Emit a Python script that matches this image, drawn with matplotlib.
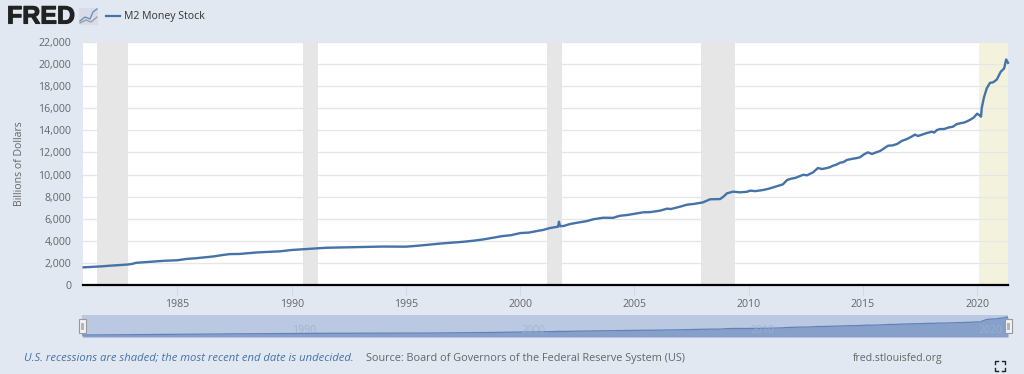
import matplotlib
matplotlib.use('Agg')
import matplotlib.pyplot as plt
import matplotlib.patheffects as pe

plt.rcParams['font.family'] = ['Open Sans', 'DejaVu Sans']

# decimal years and M2 in billions
years = [1980.9, 1981.3, 1981.7, 1982.0, 1982.4, 1982.8, 1983.0, 1983.2, 1983.6, 1984.0,
         1984.4, 1985.0, 1985.4, 1985.8, 1986.2, 1986.6, 1987.0, 1987.3, 1987.7, 1988.1,
         1988.5, 1989.0, 1989.5, 1990.0, 1990.5, 1991.0, 1991.5, 1992.0, 1992.5, 1993.0,
         1993.5, 1994.0, 1994.5, 1995.0, 1995.5, 1996.0, 1996.5, 1997.0, 1997.5, 1998.0,
         1998.4, 1998.8, 1999.2, 1999.6, 2000.0, 2000.4, 2000.74, 2001.0, 2001.31, 2001.66,
         2001.70, 2001.74, 2001.9, 2002.18, 2002.5, 2002.93, 2003.2, 2003.63, 2004.07, 2004.2,
         2004.37, 2004.7, 2005.11, 2005.38, 2005.7, 2006.12, 2006.43, 2006.6, 2006.78, 2007.0,
         2007.30, 2007.6, 2008.0, 2008.15, 2008.31, 2008.75, 2008.9, 2009.05, 2009.32, 2009.62,
         2009.93, 2010.06, 2010.3, 2010.63, 2010.85, 2011.07, 2011.3, 2011.5, 2011.68, 2011.85,
         2012.05, 2012.25, 2012.4, 2012.55, 2012.82, 2013.03, 2013.21, 2013.43, 2013.55, 2013.69,
         2013.85, 2014.0, 2014.15, 2014.3, 2014.5, 2014.7, 2014.87, 2015.05, 2015.22, 2015.4,
         2015.55, 2015.75, 2015.9, 2016.1, 2016.3, 2016.5, 2016.7, 2016.93, 2017.1, 2017.28,
         2017.41, 2017.6, 2017.8, 2018.02, 2018.12, 2018.24, 2018.37, 2018.55, 2018.75, 2018.94,
         2019.1, 2019.25, 2019.45, 2019.68, 2019.85, 2020.0, 2020.1, 2020.17, 2020.2, 2020.3,
         2020.42, 2020.56, 2020.7, 2020.86, 2021.03, 2021.18, 2021.27, 2021.35]
m2 = [1600, 1640, 1690, 1740, 1790, 1850, 1900, 2010, 2070, 2140,
      2190, 2240, 2360, 2420, 2500, 2590, 2720, 2800, 2810, 2880,
      2950, 3000, 3050, 3170, 3240, 3300, 3370, 3390, 3400, 3420,
      3450, 3480, 3470, 3470, 3550, 3650, 3750, 3830, 3910, 4020,
      4130, 4270, 4420, 4510, 4700, 4750, 4890, 4980, 5160, 5280,
      5730, 5330, 5340, 5520, 5640, 5790, 5950, 6090, 6080, 6170,
      6270, 6340, 6490, 6580, 6600, 6730, 6910, 6880, 6970, 7090,
      7270, 7340, 7480, 7620, 7760, 7780, 8000, 8300, 8450, 8390,
      8440, 8540, 8500, 8600, 8700, 8840, 8980, 9110, 9500, 9620,
      9700, 9870, 9980, 9930, 10200, 10590, 10500, 10590, 10660, 10800,
      10900, 11070, 11130, 11320, 11410, 11480, 11560, 11830, 12010, 11860,
      11990, 12130, 12340, 12610, 12640, 12770, 13040, 13220, 13400, 13610,
      13490, 13620, 13760, 13880, 13800, 14030, 14120, 14120, 14260, 14330,
      14560, 14640, 14720, 14940, 15160, 15510, 15370, 15240, 16020, 17000,
      17800, 18300, 18350, 18600, 19300, 19600, 20420, 20120]

nav_ticks = [1990, 2000, 2010, 2020]
x_ticks = [1985, 1990, 1995, 2000, 2005, 2010, 2015, 2020]
y_ticks = list(range(0, 22001, 2000))
recessions = [(1981.47, 1982.83), (1990.5, 1991.17), (2001.17, 2001.83), (2007.92, 2009.4)]
current = (2020.08, 2021.35)

W, H = 1024, 374
BG = '#e1e8f1'
LINE = '#4572a7'
TXT = '#666666'

fig = plt.figure(figsize=(W / 100, H / 100), dpi=100, facecolor=BG)

ax = fig.add_axes([83 / W, 1 - 285 / H, 925 / W, 243 / H])
ax.set_xlim(1980.87, 2021.35)
ax.set_ylim(0, 22000)
for a, b in recessions:
    ax.axvspan(a, b, color='#e6e6e6', lw=0, zorder=1)
ax.axvspan(current[0], current[1], color='#f3f3dd', lw=0, zorder=1)
ax.set_yticks(y_ticks)
ax.set_yticklabels([f'{v:,}' for v in y_ticks], fontsize=7.6, color=TXT)
ax.set_xticks(x_ticks)
ax.set_xticklabels([str(v) for v in x_ticks], fontsize=7.6, color=TXT)
ax.grid(axis='y', color='#e6e6e6', lw=0.9, zorder=2)
ax.plot(years, m2, color=LINE, lw=1.7, zorder=3, solid_joinstyle='round', clip_on=False)
for s in ['top', 'left', 'right']:
    ax.spines[s].set_visible(False)
ax.spines['bottom'].set_color('#000000')
ax.spines['bottom'].set_linewidth(1.6)
ax.tick_params(axis='y', length=0, pad=8.5)
ax.tick_params(axis='x', length=7, width=0.6, color='#ccd6e6', pad=3)
ax.set_ylabel('Billions of Dollars', fontsize=7.6, color=TXT, labelpad=9.5)

# navigator strip
nav = fig.add_axes([82 / W, 1 - 337 / H, 926 / W, 22 / H])
nav.set_xlim(1980.87, 2021.35)
nav.set_ylim(-500, 22600)
nav.set_facecolor('#bac8e2')
nav.fill_between(years, m2, -500, color='#87a0ca', lw=0, zorder=2)
nav.plot(years, m2, color='#5f82b8', lw=0.9, zorder=3)
nav.set_xticks([])
nav.set_yticks([])
for s in nav.spines.values():
    s.set_visible(False)
for yr in nav_ticks:
    nav.text(yr + 0.6, 1000, str(yr), fontsize=7.6, color='#9fb0cc',
             ha='center', va='bottom', zorder=4, alpha=0.8)

# navigator handles
for hx in [82.5, 1008]:
    fig.add_artist(plt.Rectangle(((hx - 3.5) / W, 1 - 333 / H), 7 / W, 14 / H,
                                 transform=fig.transFigure, fc='#f2f2f2', ec='#999999', lw=0.8, zorder=5))
    fig.add_artist(plt.Rectangle(((hx - 1.5) / W, 1 - 329.5 / H), 3 / W, 7 / H,
                                 transform=fig.transFigure, fc='#b5b5b5', ec='none', zorder=6))

# header
logo = fig.text(7 / W, 1 - 16.5 / H, 'FRED', fontsize=18, fontweight='bold', family=['Liberation Sans', 'DejaVu Sans'],
                color='#222222', va='center', ha='left')
logo.set_path_effects([pe.withStroke(linewidth=0.8, foreground='#222222')])
fig.add_artist(plt.Rectangle((79 / W, 1 - 25 / H), 19 / W, 17 / H, transform=fig.transFigure,
                             fc='#d6dde8', ec='none'))
fig.add_artist(plt.Line2D([80 / W, 85 / W, 90 / W, 93 / W, 97 / W],
                          [1 - 21 / H, 1 - 17 / H, 1 - 19 / H, 1 - 12 / H, 1 - 9 / H],
                          color='#6f8fbf', lw=1.0, transform=fig.transFigure))
fig.add_artist(plt.Line2D([80 / W, 86 / W, 91 / W, 97 / W],
                          [1 - 23 / H, 1 - 20 / H, 1 - 22 / H, 1 - 17 / H],
                          color='#999999', lw=0.9, transform=fig.transFigure))
fig.add_artist(plt.Line2D([106 / W, 120 / W], [1 - 16 / H, 1 - 16 / H], color=LINE, lw=1.6,
                          transform=fig.transFigure))
fig.text(124 / W, 1 - 16.5 / H, 'M2 Money Stock', fontsize=7.55, color='#333333', va='center')

# footer
fig.text(24 / W, 1 - 358 / H, 'U.S. recessions are shaded; the most recent end date is undecided.',
         fontsize=8.1, style='italic', color=LINE, va='center')
fig.text(366 / W, 1 - 358 / H, 'Source: Board of Governors of the Federal Reserve System (US)',
         fontsize=7.8, color=TXT, va='center')
fig.text(853 / W, 1 - 358 / H, 'fred.stlouisfed.org', fontsize=7.6, color=TXT, va='center')

# fullscreen icon corners
cx, cy, r, k = 1000, 365.5, 5, 3
for sx in (-1, 1):
    for sy in (-1, 1):
        fig.add_artist(plt.Line2D([(cx + sx * (r - k)) / W, (cx + sx * r) / W, (cx + sx * r) / W],
                                  [1 - (cy + sy * r) / H, 1 - (cy + sy * r) / H, 1 - (cy + sy * (r - k)) / H],
                                  color='#222222', lw=1.0, transform=fig.transFigure))

fig.savefig('out.png', dpi=100, facecolor=BG)
